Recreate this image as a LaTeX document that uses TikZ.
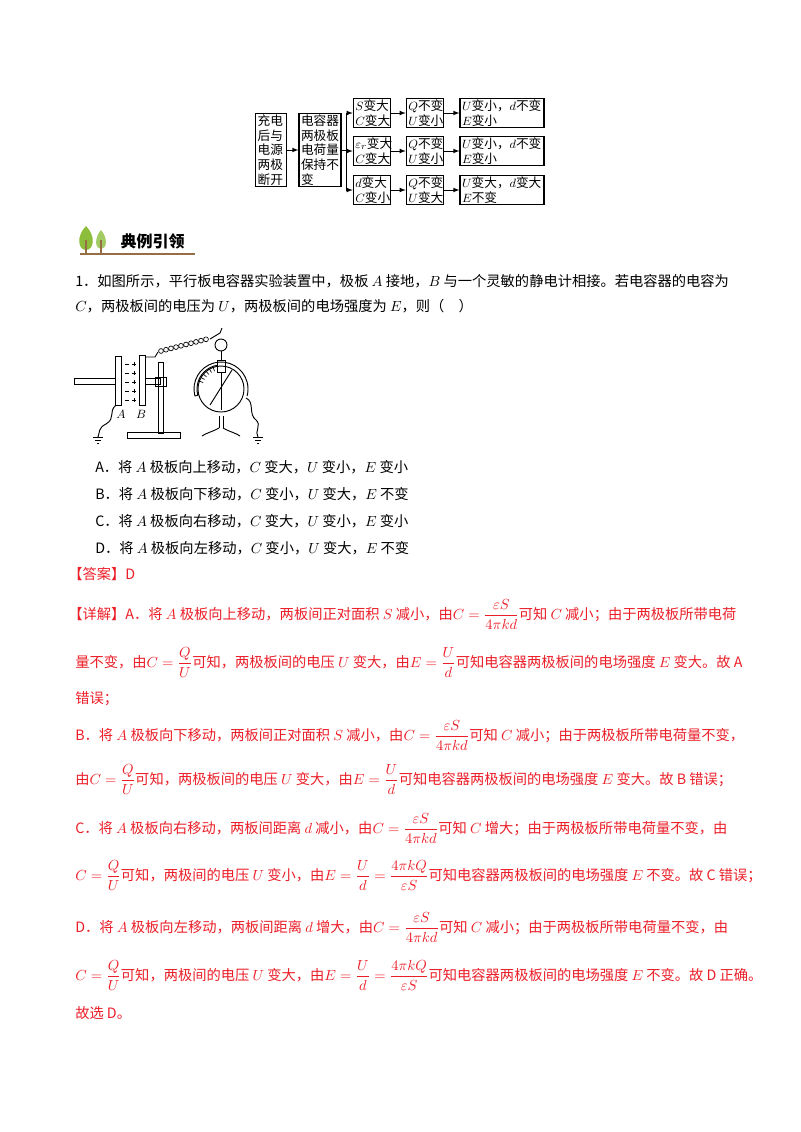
\documentclass[tikz,border=0pt]{standalone}
\usepackage{fontspec}
\usepackage{amsmath}
\setmainfont{Noto Sans CJK SC}
\definecolor{rd}{RGB}{235,30,40}
\definecolor{tg}{RGB}{140,190,60}
\definecolor{br}{RGB}{150,110,70}
\begin{document}
\begin{tikzpicture}[x=0.75pt,y=-0.75pt,
  fb/.style={draw,line width=0.9pt,inner xsep=1.5pt,inner ysep=1pt,font=\fontsize{9.5}{11}\selectfont,align=left},
  ar/.style={-latex,line width=0.6pt},
  ln/.style={anchor=base west,inner sep=0,font=\fontsize{10.7}{12}\selectfont},
  rl/.style={ln,text=rd}]
\useasboundingbox (0,0) rectangle (800,1132);
% ---- flow diagram
\node[fb,text width=20pt] (b1) at (271,150) {充电\\后与\\电源\\两极\\断开};
\node[fb,text width=28.5pt] (b2) at (320,150) {电容器\\两极板\\电荷量\\保持不\\变};
\foreach \i/\y/\a/\b/\c/\d/\e/\f in {1/113/$S$变大/$C$变大/$Q$不变/$U$变小/$U$变小，$d$不变/$E$变小,
  2/151/$\varepsilon_r$变大/$C$变大/$Q$不变/$U$变小/$U$变小，$d$不变/$E$变小,
  3/190/$d$变大/$C$变小/$Q$不变/$U$变大/$U$变大，$d$变大/$E$不变}{
  \node[fb,text width=25pt] (s\i) at (372,\y) {\a\\\b};
  \node[fb,text width=25pt] (q\i) at (425,\y) {\c\\\d};
  \node[fb,text width=60pt] (u\i) at (502,\y) {\e\\\f};
  \draw[ar] (s\i) -- (q\i);
  \draw[ar] (q\i) -- (u\i);
}
\draw[ar] (b1) -- (b2);
\coordinate (j) at (346,150);
\draw[line width=0.6pt] (b2.east) -- (j);
\draw[ar] (j) |- (s1.west);
\draw[ar] (j) |- (s2.west);
\draw[ar] (j) |- (s3.west);
% ---- title
\fill[tg] (86,226) .. controls (76,236) and (78,250) .. (86,250) .. controls (94,250) and (96,236) .. (86,226);
\fill[tg!80] (101,230) .. controls (94,238) and (95,249) .. (101,249) .. controls (107,249) and (108,238) .. (101,230);
\draw[br,line width=1pt] (86,240) -- (86,254) (101,240) -- (101,254);
\draw[br,line width=0.8pt] (80,254) -- (195,254);
\node[anchor=west,font=\fontsize{12}{14}\selectfont\bfseries] (tt) at (116,241) {典例引领};
% ---- question
\node[ln] (q1) at (75,286) {1．如图所示，平行板电容器实验装置中，极板 $A$ 接地，$B$ 与一个灵敏的静电计相接。若电容器的电容为};
\node[ln] (q2) at (75,311) {$C$，两极板间的电压为 $U$，两极板间的电场强度为 $E$，则（\quad ）};
% ---- apparatus
\begin{scope}[line width=0.7pt]
\draw (74,378) rectangle (115,384);
\draw (115,356) rectangle (121,405);
\draw (139,355) rectangle (145,405);
\foreach \yy in {364,373,382,391,400}{
  \draw[line width=0.5pt] (125,\yy) -- (129,\yy);
  \draw[line width=0.5pt] (132,\yy) -- (136,\yy) (134,\yy-2) -- (134,\yy+2);}
\draw (145,378) rectangle (160,384);
\draw (158,362) rectangle (163,433);
\draw (155,377) rectangle (166,386);
\draw (127,432) rectangle (180,438);
\draw (145,357) -- (155,357) -- (158,352);
\foreach \k in {0,...,9}{\draw[line width=0.5pt] (161+5*\k,351-1.3*\k) circle[radius=2.4];}
\draw (210,339) -- (220,333) -- (222,328);
\draw (221,345) circle[radius=6];
\draw (221,351) -- (221,360);
\draw (217,360) rectangle (225,372);
\draw (221,389) circle[radius=23];
\draw (221,372) -- (221,410);
\draw (210,405) -- (232,370);
\foreach \a in {200,210,...,250}{\draw[line width=0.5pt] (221,389)++(\a:23) -- ++(\a:-4);}
\draw (221,389)++(165:27) arc[start angle=165,end angle=375,radius=27];
\draw (221,389)++(165:27) -- ++(165:-3) arc[start angle=165,end angle=260,radius=24];
\draw (219,416) -- (219,428) (223,416) -- (223,428);
\draw (219,428) .. controls (212,432) and (206,433) .. (202,436);
\draw (223,428) .. controls (230,432) and (236,433) .. (240,436);
% ground wires
\draw (116,405) .. controls (108,412) and (116,418) .. (106,424) .. controls (98,428) and (100,432) .. (98,437);
\draw (93,437) -- (103,437) (95,440) -- (101,440) (97,443) -- (99,443);
\draw (246,398) .. controls (255,402) and (248,414) .. (256,420) .. controls (262,425) and (254,432) .. (258,437);
\draw (253,437) -- (263,437) (255,440) -- (261,440) (257,443) -- (259,443);
\end{scope}
\node[font=\fontsize{9}{10}\selectfont\itshape] (la) at (121,414) {$A$};
\node[font=\fontsize{9}{10}\selectfont\itshape] (lb) at (141,414) {$B$};
% ---- options
\node[ln] (oa) at (95,472) {A．将 $A$ 极板向上移动，$C$ 变大，$U$ 变小，$E$ 变小};
\node[ln] (ob) at (95,499) {B．将 $A$ 极板向下移动，$C$ 变小，$U$ 变大，$E$ 不变};
\node[ln] (oc) at (95,526) {C．将 $A$ 极板向右移动，$C$ 变大，$U$ 变小，$E$ 变小};
\node[ln] (od) at (95,553) {D．将 $A$ 极板向左移动，$C$ 变小，$U$ 变大，$E$ 不变};
\node[rl] (ans) at (68,579) {【答案】D};
% ---- explanation
\newcommand{\fc}{$C=\dfrac{\varepsilon S}{4\pi kd}$}
\newcommand{\fq}{$C=\dfrac{Q}{U}$}
\newcommand{\fe}{$E=\dfrac{U}{d}$}
\newcommand{\fee}{$E=\dfrac{U}{d}=\dfrac{4\pi kQ}{\varepsilon S}$}
\node[rl] (d1) at (68,619) {【详解】A．将 $A$ 极板向上移动，两板间正对面积 $S$ 减小，由\fc 可知 $C$ 减小；由于两极板所带电荷};
\node[rl] (d2) at (75,667) {量不变，由\fq 可知，两极板间的电压 $U$ 变大，由\fe 可知电容器两极板间的电场强度 $E$ 变大。故 A};
\node[rl] (d3) at (75,703) {错误；};
\node[rl] (d4) at (75,740) {B．将 $A$ 极板向下移动，两板间正对面积 $S$ 减小，由\fc 可知 $C$ 减小；由于两极板所带电荷量不变，};
\node[rl] (d5) at (75,784) {由\fq 可知，两极板间的电压 $U$ 变大，由\fe 可知电容器两极板间的电场强度 $E$ 变大。故 B 错误；};
\node[rl] (d6) at (75,833) {C．将 $A$ 极板向右移动，两板间距离 $d$ 减小，由\fc 可知 $C$ 增大；由于两极板所带电荷量不变，由};
\node[rl] (d7) at (75,880) {\fq 可知，两极间的电压 $U$ 变小，由\fee 可知电容器两极板间的电场强度 $E$ 不变。故 C 错误；};
\node[rl] (d8) at (75,932) {D．将 $A$ 极板向左移动，两板间距离 $d$ 增大，由\fc 可知 $C$ 减小；由于两极板所带电荷量不变，由};
\node[rl] (d9) at (75,980) {\fq 可知，两极间的电压 $U$ 变大，由\fee 可知电容器两极板间的电场强度 $E$ 不变。故 D 正确。};
\node[rl] (d10) at (75,1018) {故选 D。};
\end{tikzpicture}
\end{document}
